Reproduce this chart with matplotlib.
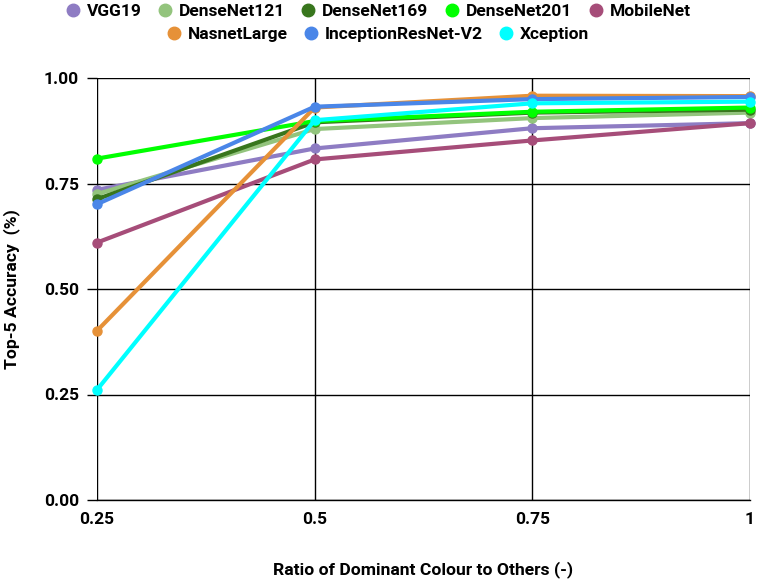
import matplotlib.pyplot as plt
from matplotlib.lines import Line2D

plt.rcParams["font.family"] = ["Roboto", "DejaVu Sans"]
plt.rcParams["font.weight"] = "bold"

ratios = [0.25, 0.5, 0.75, 1.0]
ratio_labels = ["0.25", "0.5", "0.75", "1"]

models = ["VGG19", "DenseNet121", "DenseNet169", "DenseNet201", "MobileNet",
          "NasnetLarge", "InceptionResNet-V2", "Xception"]

vgg19 = [0.735, 0.833, 0.881, 0.893]
densenet121 = [0.725, 0.879, 0.905, 0.918]
densenet169 = [0.713, 0.895, 0.918, 0.925]
densenet201 = [0.809, 0.898, 0.920, 0.930]
mobilenet = [0.610, 0.807, 0.852, 0.893]
nasnetlarge = [0.401, 0.930, 0.958, 0.957]
inception_resnet = [0.701, 0.932, 0.950, 0.955]
xception = [0.261, 0.900, 0.940, 0.944]

series = [vgg19, densenet121, densenet169, densenet201, mobilenet,
          nasnetlarge, inception_resnet, xception]
colors = ["#8e7cc3", "#93c47d", "#38761d", "#00ff00", "#a64d79",
          "#e69138", "#4a86e8", "#00ffff"]

fig = plt.figure(figsize=(7.57, 5.8), dpi=100)
ax = fig.add_axes([97 / 757, 1 - 500 / 580, 653 / 757, 422 / 580])

for vals, name, c in zip(series, models, colors):
    ax.plot(ratios, vals, color=c, lw=3, marker="o", ms=6.5,
            label=name, solid_capstyle="round", zorder=3, clip_on=False)

ax.set_xlim(0.25, 1.0)
ax.set_ylim(0, 1.0)
ax.set_xticks(ratios)
ax.set_xticklabels(ratio_labels)
ax.set_yticks([0, 0.25, 0.5, 0.75, 1.0])
ax.set_yticklabels(["0.00", "0.25", "0.50", "0.75", "1.00"])
ax.grid(True, color="black", lw=1)
for s in ["top", "right", "left"]:
    ax.spines[s].set_visible(False)
ax.spines["bottom"].set_linewidth(1)
ax.tick_params(axis="x", length=0, pad=9, labelsize=12.5)
ax.tick_params(axis="y", length=7, width=1, pad=6, labelsize=12.5)
for lbl in ax.get_xticklabels() + ax.get_yticklabels():
    lbl.set_fontweight("bold")

ax.set_xlabel("Ratio of Dominant Colour to Others (-)", fontsize=12.6,
              fontweight="bold", labelpad=24)
ax.set_ylabel("Top-5 Accuracy  (%)", fontsize=12.6, fontweight="bold",
              labelpad=17)

# legenda in due righe centrate
handles = [Line2D([], [], ls="none", marker="o", ms=9, color=c) for c in colors]
kw = dict(frameon=False, handlelength=0.7, handletextpad=0.45,
          columnspacing=1.0, prop={"weight": "bold", "size": 12.5},
          borderaxespad=0)
fig.legend(handles[:5], models[:5], ncol=5, loc="center",
           bbox_to_anchor=(0.5, 1 - 11 / 580), **kw)
fig.legend(handles[5:], models[5:], ncol=3, loc="center",
           bbox_to_anchor=(0.5, 1 - 34 / 580), **kw)

fig.savefig("out.png", dpi=100)
